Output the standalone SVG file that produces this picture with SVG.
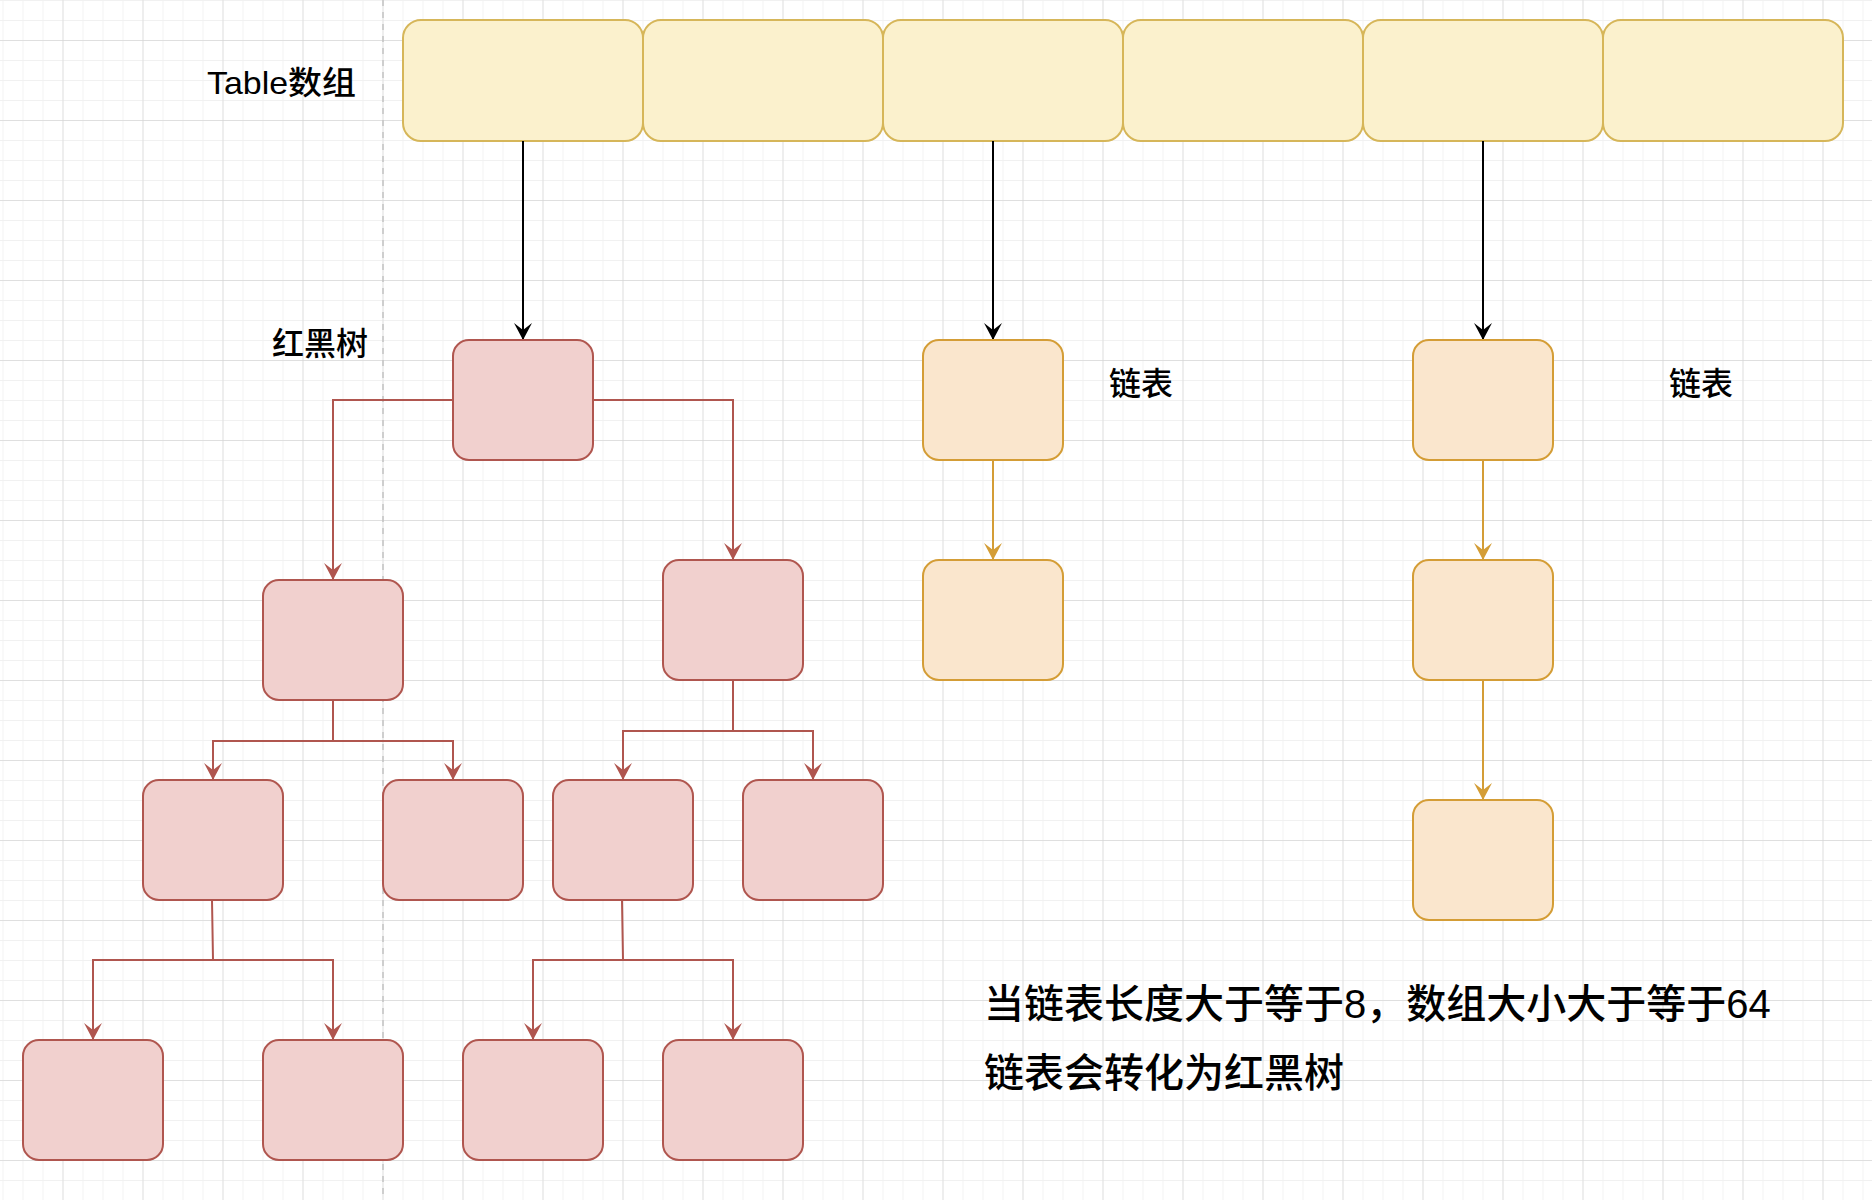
<svg xmlns="http://www.w3.org/2000/svg" width="1872" height="1200" viewBox="0 0 1872 1200">
  <style>
    .cell { fill: #fbf1cd; stroke: #d6b659; stroke-width: 2; }
    .tree { fill: #f1d0ce; stroke: #b0564f; stroke-width: 2; }
    .list { fill: #fae6cd; stroke: #d49d36; stroke-width: 2; }
    .edge { fill: none; stroke-width: 2; }
    .black { stroke: #000000; }
    .red { stroke: #b0564f; }
    .gold { stroke: #d49d36; }
    .lbl { font-family: "Liberation Sans", "Noto Sans CJK SC", sans-serif; fill: #000000; font-weight: 500; }
  </style>
  <defs>
    <pattern id="minor" patternUnits="userSpaceOnUse" x="2.5" y="0" width="20" height="20">
      <path d="M0 0 V20 M0 0 H20" stroke="#f1f1f1" stroke-width="1.8" fill="none"/>
    </pattern>
    <pattern id="major" patternUnits="userSpaceOnUse" x="62.5" y="40" width="80" height="80">
      <path d="M0 0 V80 M0 0 H80" stroke="#cecece" stroke-width="1" fill="none"/>
    </pattern>
    <marker id="arrBlack" markerUnits="userSpaceOnUse" markerWidth="18" markerHeight="18" viewBox="0 0 18 18" refX="17" refY="9" orient="auto">
      <path d="M17 9 L0 0 L7 9 L0 18 Z" fill="#000000"/>
    </marker>
    <marker id="arrRed" markerUnits="userSpaceOnUse" markerWidth="18" markerHeight="18" viewBox="0 0 18 18" refX="17" refY="9" orient="auto">
      <path d="M17 9 L0 0 L7 9 L0 18 Z" fill="#b0564f"/>
    </marker>
    <marker id="arrGold" markerUnits="userSpaceOnUse" markerWidth="18" markerHeight="18" viewBox="0 0 18 18" refX="17" refY="9" orient="auto">
      <path d="M17 9 L0 0 L7 9 L0 18 Z" fill="#d49d36"/>
    </marker>
  </defs>

  <rect x="0" y="0" width="1872" height="1200" fill="#ffffff"/>
  <rect x="0" y="0" width="1872" height="1200" fill="url(#minor)"/>
  <rect x="0" y="0" width="1872" height="1200" fill="url(#major)"/>
  <line x1="383" y1="0" x2="383" y2="1200" stroke="#c4c4c4" stroke-width="1.5" stroke-dasharray="6 6"/>

  <g id="table">
    <rect id="cell1" class="cell" x="403" y="20" width="240" height="121" rx="18" ry="18"/>
    <rect id="cell2" class="cell" x="643" y="20" width="240" height="121" rx="18" ry="18"/>
    <rect id="cell3" class="cell" x="883" y="20" width="240" height="121" rx="18" ry="18"/>
    <rect id="cell4" class="cell" x="1123" y="20" width="240" height="121" rx="18" ry="18"/>
    <rect id="cell5" class="cell" x="1363" y="20" width="240" height="121" rx="18" ry="18"/>
    <rect id="cell6" class="cell" x="1603" y="20" width="240" height="121" rx="18" ry="18"/>
  </g>

  <g id="connectors">
    <path class="edge black" d="M523 141 V340" marker-end="url(#arrBlack)"/>
    <path class="edge black" d="M993 141 V340" marker-end="url(#arrBlack)"/>
    <path class="edge black" d="M1483 141 V340" marker-end="url(#arrBlack)"/>

    <path class="edge gold" d="M993 460 V560" marker-end="url(#arrGold)"/>
    <path class="edge gold" d="M1483 460 V560" marker-end="url(#arrGold)"/>
    <path class="edge gold" d="M1483 680 V800" marker-end="url(#arrGold)"/>

    <path class="edge red" d="M453 400 H333 V580" marker-end="url(#arrRed)"/>
    <path class="edge red" d="M593 400 H733 V560" marker-end="url(#arrRed)"/>
    <path class="edge red" d="M333 700 V741 H213 V780" marker-end="url(#arrRed)"/>
    <path class="edge red" d="M333 741 H453 V780" marker-end="url(#arrRed)"/>
    <path class="edge red" d="M733 680 V731 H623 V780" marker-end="url(#arrRed)"/>
    <path class="edge red" d="M733 731 H813 V780" marker-end="url(#arrRed)"/>
    <path class="edge red" d="M212 900 L213 960 H93 V1040" marker-end="url(#arrRed)"/>
    <path class="edge red" d="M213 960 H333 V1040" marker-end="url(#arrRed)"/>
    <path class="edge red" d="M622 900 L623 960 H533 V1040" marker-end="url(#arrRed)"/>
    <path class="edge red" d="M623 960 H733 V1040" marker-end="url(#arrRed)"/>
  </g>

  <g id="tree-root"><rect class="tree" x="453" y="340" width="140" height="120" rx="16" ry="16"/></g>
  <g id="tree-l"><rect class="tree" x="263" y="580" width="140" height="120" rx="16" ry="16"/></g>
  <g id="tree-r"><rect class="tree" x="663" y="560" width="140" height="120" rx="16" ry="16"/></g>
  <g id="tree-ll"><rect class="tree" x="143" y="780" width="140" height="120" rx="16" ry="16"/></g>
  <g id="tree-lr"><rect class="tree" x="383" y="780" width="140" height="120" rx="16" ry="16"/></g>
  <g id="tree-rl"><rect class="tree" x="553" y="780" width="140" height="120" rx="16" ry="16"/></g>
  <g id="tree-rr"><rect class="tree" x="743" y="780" width="140" height="120" rx="16" ry="16"/></g>
  <g id="tree-lll"><rect class="tree" x="23" y="1040" width="140" height="120" rx="16" ry="16"/></g>
  <g id="tree-llr"><rect class="tree" x="263" y="1040" width="140" height="120" rx="16" ry="16"/></g>
  <g id="tree-rll"><rect class="tree" x="463" y="1040" width="140" height="120" rx="16" ry="16"/></g>
  <g id="tree-rlr"><rect class="tree" x="663" y="1040" width="140" height="120" rx="16" ry="16"/></g>

  <g id="list1-a"><rect class="list" x="923" y="340" width="140" height="120" rx="16" ry="16"/></g>
  <g id="list1-b"><rect class="list" x="923" y="560" width="140" height="120" rx="16" ry="16"/></g>
  <g id="list2-a"><rect class="list" x="1413" y="340" width="140" height="120" rx="16" ry="16"/></g>
  <g id="list2-b"><rect class="list" x="1413" y="560" width="140" height="120" rx="16" ry="16"/></g>
  <g id="list2-c"><rect class="list" x="1413" y="800" width="140" height="120" rx="16" ry="16"/></g>

  <g id="labels">
    <text class="lbl" x="207" y="94" font-size="32" textLength="149" lengthAdjust="spacingAndGlyphs">Table数组</text>
    <text class="lbl" x="272" y="355" font-size="32">红黑树</text>
    <text class="lbl" x="1109" y="395" font-size="32">链表</text>
    <text class="lbl" x="1669" y="395" font-size="32">链表</text>
    <text class="lbl" x="984" y="1018" font-size="40">当链表长度大于等于8，数组大小大于等于64</text>
    <text class="lbl" x="984" y="1087" font-size="40">链表会转化为红黑树</text>
  </g>
</svg>
